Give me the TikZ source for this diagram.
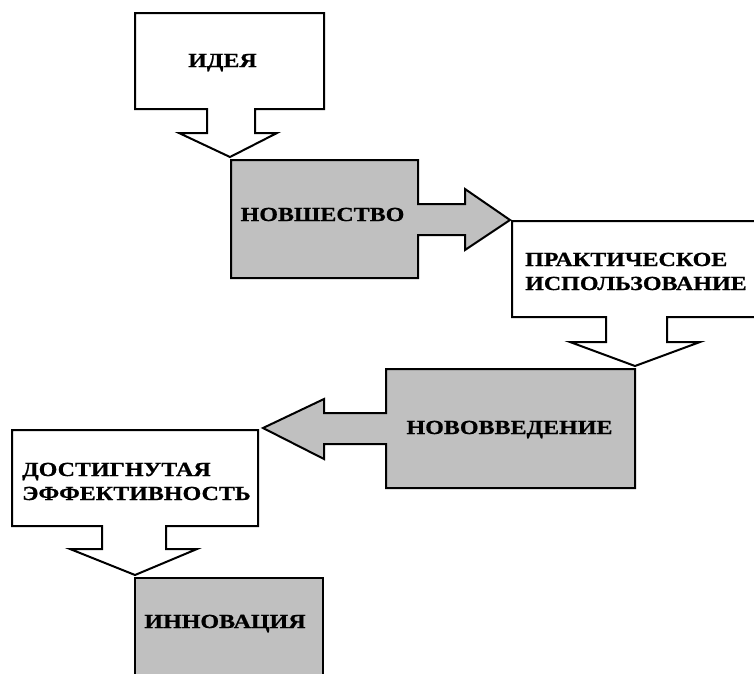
\documentclass[tikz,border=0pt]{standalone}
\usepackage{fontspec}
\setmainfont{Liberation Serif}
\newfontfamily\lblfont[FakeStretch=1.2,FakeBold=0.8]{Liberation Serif Bold}
\definecolor{boxgray}{RGB}{192,192,192}
\begin{document}
\begin{tikzpicture}[x=1pt,y=-1pt,
  shapeline/.style={draw=black,line width=2pt,line join=miter},
  whitebox/.style={shapeline,fill=white},
  graybox/.style={shapeline,fill=boxgray},
  lbl/.style={inner sep=0pt,font=\lblfont\fontsize{20}{24}\selectfont,text=black}]
\useasboundingbox (0,0) rectangle (754,673);
\clip (0,0) rectangle (754,673);
% ИДЕЯ block with down arrow
\draw[whitebox] (135,13) -- (324,13) -- (324,109) -- (255,109) -- (255,133) -- (277,133)
  -- (230,157) coordinate (tipA) -- (179,133) -- (207,133) -- (207,109) -- (135,109) -- cycle;
% НОВШЕСТВО block with right arrow
\draw[graybox] (231,160) -- (418,160) -- (418,204) -- (465,204) -- (465,189)
  -- (510,220) coordinate (tipB) -- (465,250) -- (465,235) -- (418,235) -- (418,278) -- (231,278) -- cycle;
% ПРАКТИЧЕСКОЕ ИСПОЛЬЗОВАНИЕ block with down arrow
\draw[whitebox] (512,221) -- (770,221) -- (770,317) -- (667,317) -- (667,342) -- (700,342)
  -- (635,366) coordinate (tipC) -- (570,342) -- (606,342) -- (606,317) -- (512,317) -- cycle;
% НОВОВВЕДЕНИЕ block with left arrow
\draw[graybox] (386,369) -- (635,369) -- (635,488) -- (386,488) -- (386,444) -- (324,444) -- (324,459)
  -- (263,428) coordinate (tipD) -- (324,399) -- (324,413) -- (386,413) -- cycle;
% ДОСТИГНУТАЯ ЭФФЕКТИВНОСТЬ block with down arrow
\draw[whitebox] (12,430) -- (258,430) -- (258,526) -- (166,526) -- (166,549) -- (197,549)
  -- (135,575) coordinate (tipE) -- (70,549) -- (102,549) -- (102,526) -- (12,526) -- cycle;
% ИННОВАЦИЯ block
\draw[graybox] (135,578) -- (323,578) -- (323,690) -- (135,690) -- cycle;
% labels
\node[lbl,anchor=base] (idea) at (222.5,67) {ИДЕЯ};
\node[lbl,anchor=base] (novsh) at (322.5,221) {НОВШЕСТВО};
\node[lbl,anchor=base west] (prakt1) at (525,266) {ПРАКТИЧЕСКОЕ};
\node[lbl,anchor=base west] (prakt2) at (525,290) {ИСПОЛЬЗОВАНИЕ};
\node[lbl,anchor=base] (novov) at (509.5,434) {НОВОВВЕДЕНИЕ};
\node[lbl,anchor=base west] (dost1) at (22,476) {ДОСТИГНУТАЯ};
\node[lbl,anchor=base west] (dost2) at (22,500) {ЭФФЕКТИВНОСТЬ};
\node[lbl,anchor=base] (innov) at (225,628) {ИННОВАЦИЯ};
\end{tikzpicture}
\end{document}
